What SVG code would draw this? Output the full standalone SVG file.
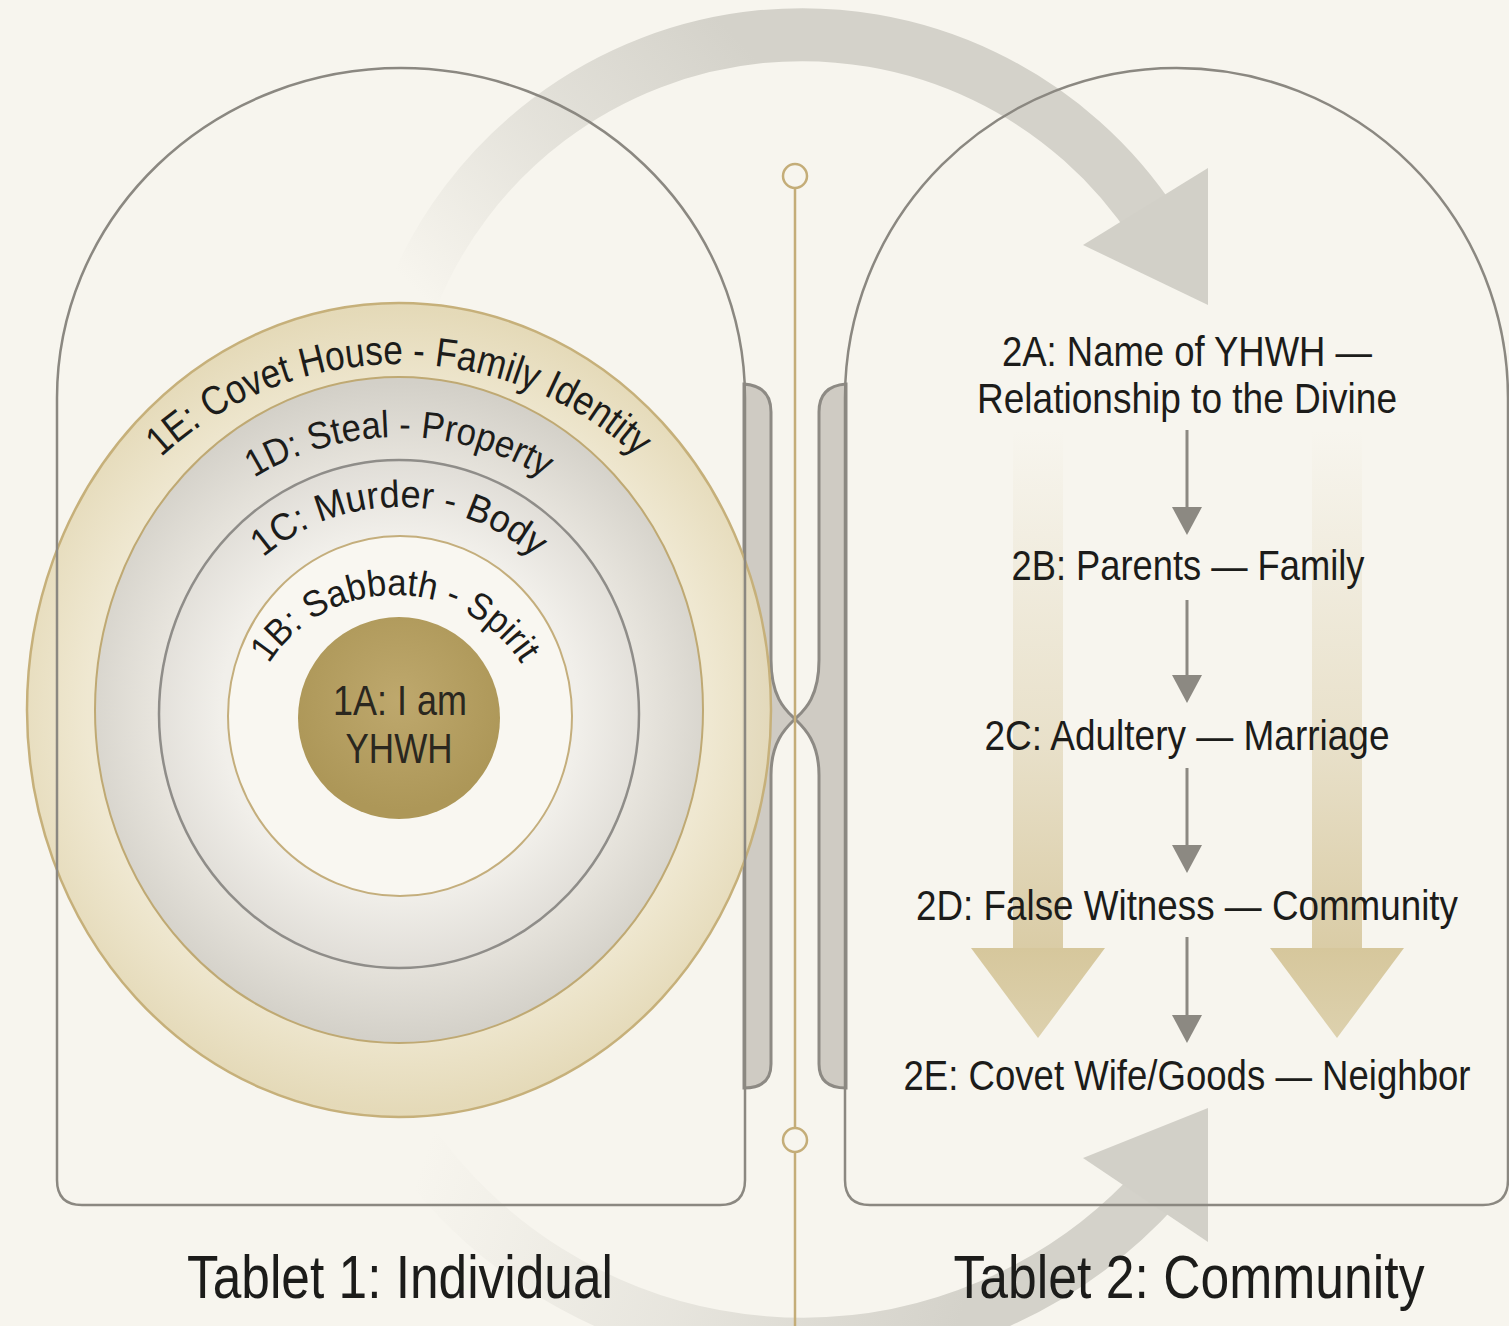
<svg xmlns="http://www.w3.org/2000/svg" width="1509" height="1326" viewBox="0 0 1509 1326">
<defs>
<style>
.tab{fill:none;stroke:#8b8881;stroke-width:2.5}
.lbl{font-family:"Liberation Sans",Arial,Helvetica,sans-serif;fill:#1c1c1a}
.r{font-size:42px}
.ttl{font-size:62px}
.sm{stroke:#8c8982;stroke-width:3;fill:none}
.smh{fill:#8c8982}
.bar{fill:#cfcbc3;stroke:#8d8a84;stroke-width:3}
.gold{stroke:#c4ad78;stroke-width:2.5;fill:none}
.band{fill:none;stroke-width:53}
.head{fill:#d2d0c8}
</style>
<linearGradient id="fadeTop" gradientUnits="userSpaceOnUse" x1="425" y1="300" x2="720" y2="20">
<stop offset="0" stop-color="#d4d2ca" stop-opacity="0"/>
<stop offset="0.5" stop-color="#d4d2ca" stop-opacity="0.55"/>
<stop offset="1" stop-color="#d4d2ca" stop-opacity="1"/>
</linearGradient>
<linearGradient id="fadeBot" gradientUnits="userSpaceOnUse" x1="430" y1="1140" x2="960" y2="1320">
<stop offset="0" stop-color="#d4d2ca" stop-opacity="0"/>
<stop offset="0.5" stop-color="#d4d2ca" stop-opacity="0.45"/>
<stop offset="1" stop-color="#d4d2ca" stop-opacity="1"/>
</linearGradient>
<linearGradient id="tanL" gradientUnits="userSpaceOnUse" x1="0" y1="430" x2="0" y2="960">
<stop offset="0" stop-color="#d9cba4" stop-opacity="0"/>
<stop offset="0.6" stop-color="#d9cba4" stop-opacity="0.5"/>
<stop offset="1" stop-color="#d9cba4" stop-opacity="1"/>
</linearGradient>
<linearGradient id="tanH" gradientUnits="userSpaceOnUse" x1="0" y1="948" x2="0" y2="1038">
<stop offset="0" stop-color="#d6c79c"/>
<stop offset="1" stop-color="#ddd1ae"/>
</linearGradient>
<radialGradient id="gOuter" cx="399" cy="710" r="400" gradientUnits="userSpaceOnUse">
<stop offset="0.78" stop-color="#eee6cd"/>
<stop offset="1" stop-color="#e2d6b1"/>
</radialGradient>
<radialGradient id="gR2" cx="399" cy="712" r="330" gradientUnits="userSpaceOnUse">
<stop offset="0.72" stop-color="#e9e6df"/>
<stop offset="1" stop-color="#d3d0c8"/>
</radialGradient>
<radialGradient id="gR3" cx="399" cy="714" r="255" gradientUnits="userSpaceOnUse">
<stop offset="0.7" stop-color="#f1efea"/>
<stop offset="1" stop-color="#e0ddd7"/>
</radialGradient>
<radialGradient id="gCore" cx="399" cy="700" r="110" gradientUnits="userSpaceOnUse">
<stop offset="0" stop-color="#bea86d"/>
<stop offset="1" stop-color="#ad9758"/>
</radialGradient>
<path id="p1E" d="M 49 714 A 350 350 0 0 1 749 714"/>
<path id="p1D" d="M 122 714 A 277 277 0 0 1 676 714"/>
<path id="p1C" d="M 192 714 A 207 207 0 0 1 606 714"/>
<path id="p1B" d="M 245 745 A 150 150 0 0 1 545 745"/>
</defs>
<rect width="1509" height="1326" fill="#f7f5ee"/>

<g id="cycle-arrows">
<path class="band" stroke="url(#fadeTop)" d="M 411 300 A 421 421 0 0 1 1155 226"/>
<polygon class="head" points="1083,245 1208,168 1208,305"/>
<path class="band" stroke="url(#fadeBot)" d="M 400 1125 A 479 479 0 0 0 1158 1186"/>
<polygon class="head" points="1083,1158 1208,1108 1208,1242"/>
</g>

<g id="flow-arrows">
<rect x="1013" y="430" width="50" height="520" fill="url(#tanL)"/>
<polygon points="971,948 1105,948 1038,1038" fill="url(#tanH)"/>
<rect x="1312" y="430" width="50" height="520" fill="url(#tanL)"/>
<polygon points="1270,948 1404,948 1337,1038" fill="url(#tanH)"/>
</g>

<g id="hinge">
<path class="bar" d="M 744 384 Q 771 386 771 412 L 771 660 C 771 700 788 712 795 719 C 788 726 771 740 771 775 L 771 1064 Q 771 1088 744 1088 Z"/>
<path class="bar" d="M 846 384 Q 819 386 819 412 L 819 660 C 819 700 802 712 795 719 C 802 726 819 740 819 775 L 819 1064 Q 819 1088 846 1088 Z"/>
</g>

<g id="rings">
<ellipse id="ring-1E" cx="399" cy="710" rx="372" ry="407" fill="url(#gOuter)" fill-opacity="0.88" stroke="#c6b07a" stroke-width="2.5"/>
<ellipse id="ring-1D" cx="399" cy="710" rx="304" ry="333" fill="url(#gR2)" stroke="#bfa973" stroke-width="2"/>
<ellipse id="ring-1C" cx="399" cy="714" rx="240" ry="254" fill="url(#gR3)" stroke="#8f8d89" stroke-width="2.5"/>
<ellipse id="ring-1B" cx="400" cy="716" rx="172" ry="180" fill="#f9f7f1" stroke="#c4ae7c" stroke-width="2"/>
<circle id="core-1A" cx="399" cy="718" r="101" fill="url(#gCore)"/>
</g>

<g id="tablet-1">
<path class="tab" d="M 57 398 A 344 330 0 0 1 745 398 L 745 1180 Q 745 1205 720 1205 L 82 1205 Q 57 1205 57 1180 Z"/>
</g>
<g id="tablet-2">
<path class="tab" d="M 845 398 A 331.5 330 0 0 1 1508 398 L 1508 1180 Q 1508 1205 1483 1205 L 870 1205 Q 845 1205 845 1180 Z"/>
</g>

<g id="axis">
<line class="gold" x1="795" y1="188" x2="795" y2="1128"/>
<line class="gold" x1="795" y1="1152" x2="795" y2="1326"/>
<circle class="gold" cx="795" cy="176" r="12" fill="#f7f5ee"/>
<circle class="gold" cx="795" cy="1140" r="12" fill="#f7f5ee"/>
</g>

<g id="ring-labels" class="lbl" text-anchor="middle">
<text font-size="41"><textPath href="#p1E" startOffset="50%" textLength="523" lengthAdjust="spacingAndGlyphs">1E: Covet House - Family Identity</textPath></text>
<text font-size="38"><textPath href="#p1D" startOffset="50%" textLength="305" lengthAdjust="spacingAndGlyphs">1D: Steal - Property</textPath></text>
<text font-size="38"><textPath href="#p1C" startOffset="50%" textLength="296" lengthAdjust="spacingAndGlyphs">1C: Murder - Body</textPath></text>
<text font-size="37"><textPath href="#p1B" startOffset="50%" textLength="300" lengthAdjust="spacingAndGlyphs">1B: Sabbath - Spirit</textPath></text>
<text font-size="42" x="400" y="715" textLength="134" lengthAdjust="spacingAndGlyphs" fill="#2a271f">1A: I am</text>
<text font-size="42" x="399" y="763" textLength="107" lengthAdjust="spacingAndGlyphs" fill="#2a271f">YHWH</text>
</g>

<g id="community-labels" class="lbl r" text-anchor="middle">
<text id="n2A" x="1187" y="366" textLength="370" lengthAdjust="spacingAndGlyphs">2A: Name of YHWH —</text>
<text x="1187" y="413" textLength="420" lengthAdjust="spacingAndGlyphs">Relationship to the Divine</text>
<text id="n2B" x="1188" y="580" textLength="353" lengthAdjust="spacingAndGlyphs">2B: Parents — Family</text>
<text id="n2C" x="1187" y="750" textLength="405" lengthAdjust="spacingAndGlyphs">2C: Adultery — Marriage</text>
<text id="n2D" x="1187" y="920" textLength="542" lengthAdjust="spacingAndGlyphs">2D: False Witness — Community</text>
<text id="n2E" x="1187" y="1090" textLength="567" lengthAdjust="spacingAndGlyphs">2E: Covet Wife/Goods — Neighbor</text>
</g>

<g id="connectors">
<line class="sm" x1="1187" y1="430" x2="1187" y2="510"/>
<polygon class="smh" points="1172,507 1202,507 1187,535"/>
<line class="sm" x1="1187" y1="600" x2="1187" y2="678"/>
<polygon class="smh" points="1172,675 1202,675 1187,703"/>
<line class="sm" x1="1187" y1="768" x2="1187" y2="848"/>
<polygon class="smh" points="1172,845 1202,845 1187,873"/>
<line class="sm" x1="1187" y1="937" x2="1187" y2="1018"/>
<polygon class="smh" points="1172,1015 1202,1015 1187,1043"/>
</g>

<g id="titles" class="lbl ttl" text-anchor="middle">
<text x="400" y="1298" textLength="426" lengthAdjust="spacingAndGlyphs">Tablet 1: Individual</text>
<text x="1189" y="1298" textLength="471" lengthAdjust="spacingAndGlyphs">Tablet 2: Community</text>
</g>
</svg>
